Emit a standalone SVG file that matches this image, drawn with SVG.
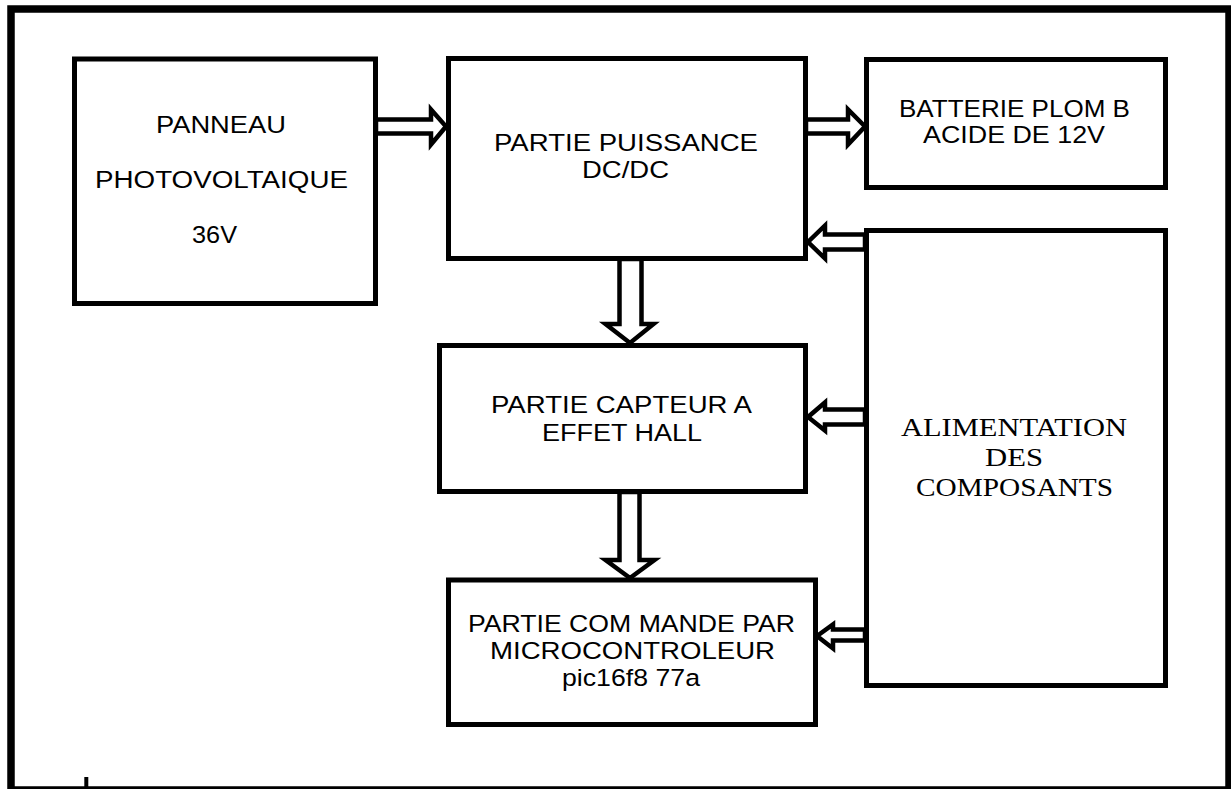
<svg xmlns="http://www.w3.org/2000/svg" width="1231" height="789" viewBox="0 0 1231 789">
<style>
.box{fill:#fff;stroke:#000;stroke-width:5;stroke-linejoin:miter}
.frame{fill:none;stroke:#000;stroke-width:7.5}
.arr{fill:#fff;stroke:#000;stroke-width:4.5;stroke-linejoin:miter;stroke-miterlimit:10}
.t{font-family:"Liberation Sans",Arial,sans-serif;font-size:24.5px;fill:#000;text-anchor:middle}
.s{font-family:"Liberation Serif","Times New Roman",serif;font-size:25px;fill:#000;text-anchor:middle}
</style>
<rect width="1231" height="789" fill="#fff"/>
<g id="frame">
<rect class="frame" x="11" y="9" width="1218" height="781"/>
<line x1="86.3" y1="777" x2="86.3" y2="789" stroke="#000" stroke-width="4"/>
</g>
<g id="panneau">
<rect class="box" x="74.5" y="59" width="301" height="244.5"/>
<text class="t" x="221" y="133" textLength="130" lengthAdjust="spacingAndGlyphs">PANNEAU</text>
<text class="t" x="221.5" y="188" textLength="253" lengthAdjust="spacingAndGlyphs">PHOTOVOLTAIQUE</text>
<text class="t" x="214.5" y="243" textLength="45" lengthAdjust="spacingAndGlyphs">36V</text>
</g>
<g id="puissance">
<rect class="box" x="448.5" y="58.5" width="357" height="200"/>
<text class="t" x="626" y="151" textLength="264" lengthAdjust="spacingAndGlyphs">PARTIE PUISSANCE</text>
<text class="t" x="625.5" y="178" textLength="87" lengthAdjust="spacingAndGlyphs">DC/DC</text>
</g>
<g id="batterie">
<rect class="box" x="866.5" y="59.5" width="299" height="128"/>
<text class="t" x="1014.5" y="117" textLength="231" lengthAdjust="spacingAndGlyphs">BATTERIE PLOM B</text>
<text class="t" x="1014" y="143" textLength="182" lengthAdjust="spacingAndGlyphs">ACIDE DE 12V</text>
</g>
<g id="alimentation">
<rect class="box" x="866.5" y="230.5" width="299" height="455"/>
<text class="s" x="1014" y="436" textLength="226" lengthAdjust="spacingAndGlyphs">ALIMENTATION</text>
<text class="s" x="1014" y="466" textLength="58" lengthAdjust="spacingAndGlyphs">DES</text>
<text class="s" x="1014.5" y="496" textLength="197" lengthAdjust="spacingAndGlyphs">COMPOSANTS</text>
</g>
<g id="capteur">
<rect class="box" x="439.5" y="345.5" width="366" height="146"/>
<text class="t" x="621.5" y="413" textLength="261" lengthAdjust="spacingAndGlyphs">PARTIE CAPTEUR A</text>
<text class="t" x="622" y="441" textLength="160" lengthAdjust="spacingAndGlyphs">EFFET HALL</text>
</g>
<g id="commande">
<rect class="box" x="448.5" y="580" width="367" height="144.5"/>
<text class="t" x="631.5" y="632" textLength="327" lengthAdjust="spacingAndGlyphs">PARTIE COM MANDE PAR</text>
<text class="t" x="632.5" y="659" textLength="285" lengthAdjust="spacingAndGlyphs">MICROCONTROLEUR</text>
<text class="t" x="631" y="686" textLength="138" lengthAdjust="spacingAndGlyphs">pic16f8 77a</text>
</g>
<g id="connectors">
<polygon class="arr" points="376,119.5 431,119.5 431,109.5 446,126.5 431,144.5 431,133.5 376,133.5"/>
<polygon class="arr" points="806,119.5 848,119.5 848,109.5 865,126.5 848,144.5 848,133.5 806,133.5"/>
<polygon class="arr" points="865,234.5 825,234.5 825,225.5 808,242 825,258.5 825,249.5 865,249.5"/>
<polygon class="arr" points="865,409.5 825,409.5 825,402.5 808,417 825,430.5 825,424.5 865,424.5"/>
<polygon class="arr" points="865,629.5 833,629.5 833,624.5 817,636 833,648.5 833,640.5 865,640.5"/>
<polygon class="arr" points="619.5,259 619.5,324 605.5,324 630,343 653.5,324 641.5,324 641.5,259"/>
<polygon class="arr" points="619.5,492 619.5,560 605.5,560 630,578 654.5,560 639.5,560 639.5,492"/>
</g>
</svg>
